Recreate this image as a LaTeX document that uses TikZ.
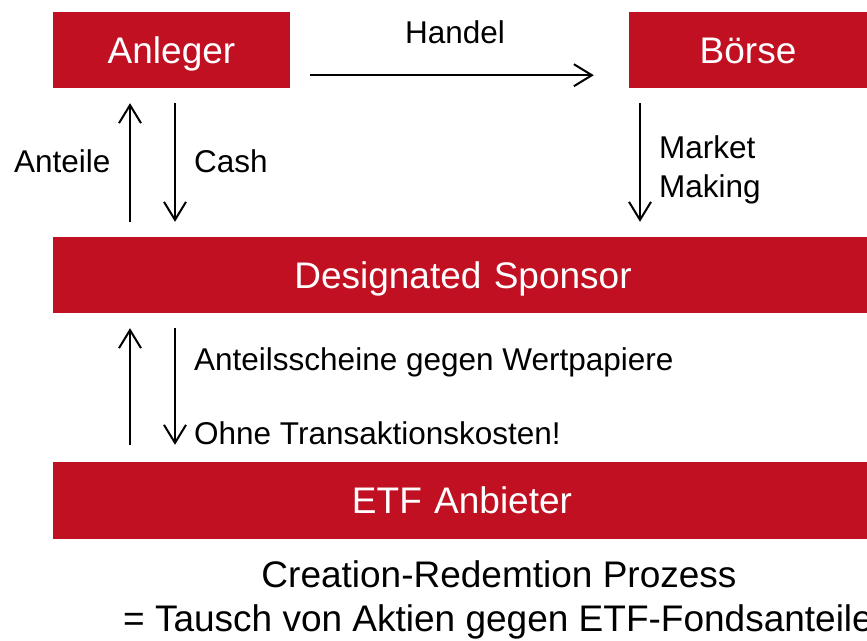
\documentclass[tikz,border=0pt]{standalone}
\usepackage{fontspec}
\setmainfont{Liberation Sans}
\usetikzlibrary{arrows.meta,calc}
\definecolor{boxred}{RGB}{192,16,34}
\tikzset{
  redbox/.style={fill=boxred, draw=none, text=white, font=\fontsize{37}{44}\selectfont,
    inner sep=0pt, text height=26.5pt, text depth=0pt},
  lbl/.style={font=\fontsize{31.5}{39}\selectfont, inner sep=0pt, anchor=base west},
  big/.style={font=\fontsize{37}{44}\selectfont, inner sep=0pt, anchor=base},
  arr/.style={line width=2pt, -{Straight Barb[length=18pt,width=22pt,line width=2pt]}}
}
\begin{document}
\begin{tikzpicture}[x=1pt,y=-1pt]
\useasboundingbox (0,0) rectangle (867,640);
\clip (0,0) rectangle (867,640);
% boxes
\node[redbox, minimum width=237pt, minimum height=76pt] (anl) at (171.5,50) {Anleger};
\node[redbox, minimum width=238pt, minimum height=76pt] (brs) at (748,50) {Börse};
\node[redbox, minimum width=814pt, minimum height=76pt, text width=814pt, align=center] (ds) at (460,275) {\hspace*{6pt}Designated Sponsor};
\node[redbox, minimum width=814pt, minimum height=77pt, text width=814pt, align=center] (etf) at (460,500.5) {\hspace*{4pt}ETF Anbieter};
% x coordinates for vertical arrows
\coordinate (xa) at (130,0);
\coordinate (xb) at (175,0);
\coordinate (xc) at (640,0);
% Handel
\draw[arr] ([shift={(20,-13)}]anl.south east) -- ([shift={(-35,-13)}]brs.south west);
\node[lbl, anchor=base] (handel) at (455,43) {Handel};
% Anleger <-> DS
\draw[arr, shorten >=15pt, shorten <=15pt] (ds.north -| xa) -- (anl.south -| xa);
\draw[arr, shorten >=15pt, shorten <=15pt] (anl.south -| xb) -- (ds.north -| xb);
\node[lbl] (anteile) at (14,172) {Anteile};
\node[lbl] (cash) at (194,172) {Cash};
% Börse -> DS
\draw[arr, shorten >=15pt, shorten <=15pt] (brs.south -| xc) -- (ds.north -| xc);
\node[lbl] (market) at (659,158) {Market};
\node[lbl] (making) at (659,197) {Making};
% DS <-> ETF
\draw[arr, shorten >=15pt, shorten <=17pt] (etf.north -| xa) -- (ds.south -| xa);
\draw[arr, shorten >=17pt, shorten <=15pt] (ds.south -| xb) -- (etf.north -| xb);
\node[lbl] (asch) at (194,370) {Anteilsscheine gegen Wertpapiere};
\node[lbl] (ohne) at (194,444) {Ohne Transaktionskosten!};
% caption
\node[big] (cap1) at (499,587) {Creation-Redemtion Prozess};
\node[big, anchor=base west] (cap2) at (123,631) {= Tausch von Aktien gegen ETF-Fondsanteile};
\end{tikzpicture}
\end{document}
